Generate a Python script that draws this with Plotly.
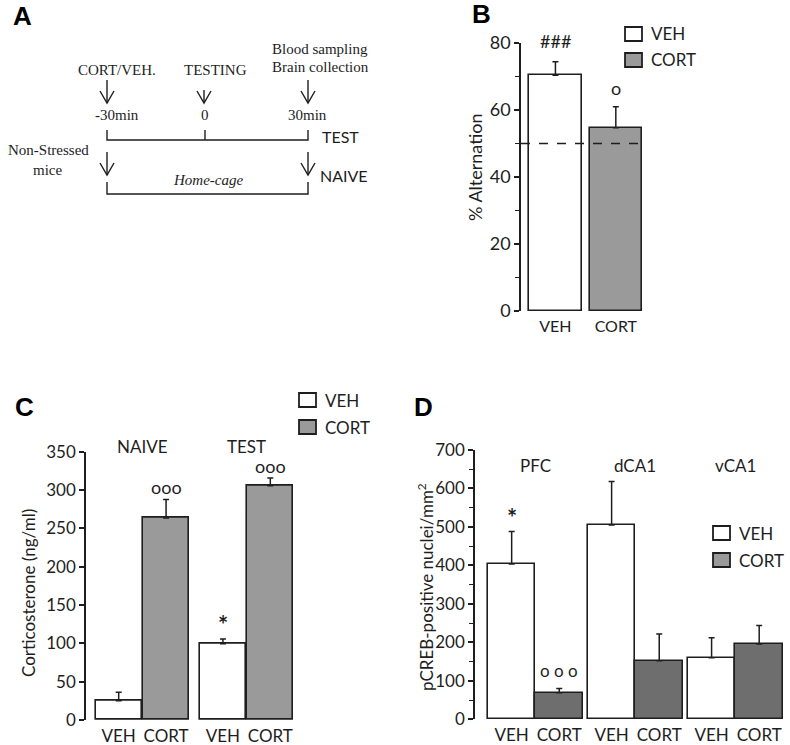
import plotly.graph_objects as go

W, H = 790, 745

# ---------------- data ----------------
groups_b = ["VEH", "CORT"]
alt_mean = [70.4, 54.7]
alt_sem = [4.0, 6.3]
chance_level = 50
b_marks = ["###", "o"]

c_groups = ["NAIVE", "TEST"]
c_treat = ["VEH", "CORT"]
cort_veh = [25.2, 99.6]
cort_veh_sem = [11.0, 6.0]
cort_cort = [263.5, 305.7]
cort_cort_sem = [24.3, 10.0]
c_marks_veh = ["", "*"]
c_marks_cort = ["ooo", "ooo"]

d_regions = ["PFC", "dCA1", "vCA1"]
creb_veh = [404, 505, 160]
creb_veh_sem = [84, 113, 52]
creb_cort = [69, 152, 196]
creb_cort_sem = [11, 70, 48]
d_marks_veh = ["*", "", ""]
d_marks_cort = ["o o o", "", ""]

# ---------------- styles ----------------
SANS = "Lato"
SERIF = "Liberation Serif"
INK = "#1e1e1e"
GRAY_LIGHT = "#9a9a9a"
GRAY_DARK = "#6e6e6e"


def px(x):
    return x / W


def py(y):
    return 1 - y / H


fig = go.Figure()
shapes = []
ann = []


def err(sem):
    return dict(type="data", array=sem, arrayminus=[0] * len(sem), symmetric=False,
                color=INK, thickness=1.5, width=3)


def label(text, x, y, fam=SANS, size=17, xanchor="center", angle=0, color=INK):
    ann.append(dict(x=px(x), y=py(y), xref="paper", yref="paper", text=text, showarrow=False,
                    xanchor=xanchor, yanchor="middle", textangle=angle,
                    font=dict(family=fam, size=size, color=color)))


def mark(text, xref, yref, x, y, size, yshift):
    if not text:
        return
    if text == "*":
        text = "<b>*</b>"
    ann.append(dict(x=x, y=y, xref=xref, yref=yref, text=text, showarrow=False,
                    xanchor="center", yanchor="bottom", yshift=yshift,
                    font=dict(family=SANS, size=size, color=INK)))


# ---------------- Panel B ----------------
xb = list(range(len(groups_b)))
fig.add_trace(go.Bar(x=xb, y=alt_mean, width=0.87,
                     marker=dict(color=["white", GRAY_LIGHT], line=dict(color=INK, width=1.6)),
                     error_y=err(alt_sem), xaxis="x", yaxis="y", showlegend=False))
shapes.append(dict(type="line", xref="x", yref="y", x0=-0.57, x1=1.45, y0=chance_level, y1=chance_level,
                   line=dict(color=INK, width=1.5, dash="dash")))
for i, m in enumerate(b_marks):
    mark(m, "x", "y", xb[i], alt_mean[i] + alt_sem[i], 18, 8 if i == 0 else 6)

# ---------------- Panel C ----------------
gap_c = 2.2
xc_veh = [g * gap_c for g in range(len(c_groups))]
xc_cort = [g * gap_c + 1 for g in range(len(c_groups))]
fig.add_trace(go.Bar(x=xc_veh, y=cort_veh, width=0.97,
                     marker=dict(color="white", line=dict(color=INK, width=1.6)),
                     error_y=err(cort_veh_sem), xaxis="x2", yaxis="y2", showlegend=False))
fig.add_trace(go.Bar(x=xc_cort, y=cort_cort, width=0.97,
                     marker=dict(color=GRAY_LIGHT, line=dict(color=INK, width=1.6)),
                     error_y=err(cort_cort_sem), xaxis="x2", yaxis="y2", showlegend=False))
for i, g in enumerate(c_groups):
    ann.append(dict(x=(xc_veh[i] + xc_cort[i]) / 2, y=py(446), xref="x2", yref="paper", text=g,
                    showarrow=False, xanchor="center", yanchor="middle",
                    font=dict(family=SANS, size=17, color=INK)))
    mark(c_marks_veh[i], "x2", "y2", xc_veh[i], cort_veh[i] + cort_veh_sem[i], 24, -2)
    mark(c_marks_cort[i], "x2", "y2", xc_cort[i], cort_cort[i] + cort_cort_sem[i], 18, -1)

# ---------------- Panel D ----------------
gap_d = 2.1
xd_veh = [g * gap_d for g in range(len(d_regions))]
xd_cort = [g * gap_d + 1 for g in range(len(d_regions))]
fig.add_trace(go.Bar(x=xd_veh, y=creb_veh, width=1.0,
                     marker=dict(color="white", line=dict(color=INK, width=1.6)),
                     error_y=err(creb_veh_sem), xaxis="x3", yaxis="y3", showlegend=False))
fig.add_trace(go.Bar(x=xd_cort, y=creb_cort, width=1.0,
                     marker=dict(color=GRAY_DARK, line=dict(color=INK, width=1.6)),
                     error_y=err(creb_cort_sem), xaxis="x3", yaxis="y3", showlegend=False))
for i, g in enumerate(d_regions):
    ann.append(dict(x=(xd_veh[i] + xd_cort[i]) / 2, y=py(465), xref="x3", yref="paper", text=g,
                    showarrow=False, xanchor="center", yanchor="middle",
                    font=dict(family=SANS, size=17, color=INK)))
    mark(d_marks_veh[i], "x3", "y3", xd_veh[i], creb_veh[i] + creb_veh_sem[i], 24, -2)
    mark(d_marks_cort[i], "x3", "y3", xd_cort[i], creb_cort[i] + creb_cort_sem[i], 17, 6)

# ---------------- axes ----------------
def yax(domain, rng, dtick, minor, anchor, size=17):
    d = dict(domain=domain, range=rng, showgrid=False, zeroline=False, showline=True,
             linecolor=INK, linewidth=1.5, ticks="outside", ticklen=5, tickwidth=1.5,
             tickcolor=INK, dtick=dtick, tick0=0, tickfont=dict(family=SANS, size=size, color=INK),
             fixedrange=True, anchor=anchor, automargin=False)
    if minor:
        d["minor"] = dict(dtick=minor, ticks="outside", ticklen=4, tickwidth=1.2, tickcolor=INK,
                          showgrid=False)
    return d


def xax(domain, rng, tickvals, ticktext, anchor, size=17):
    return dict(domain=domain, range=rng, showgrid=False, zeroline=False, showline=False,
                ticks="", tickvals=tickvals, ticktext=ticktext, anchor=anchor,
                ticklabelstandoff=4, automargin=False,
                tickfont=dict(family=SANS, size=size, color=INK), fixedrange=True)


layout = dict(
    width=W, height=H, margin=dict(l=0, r=0, t=0, b=0, pad=0),
    paper_bgcolor="white", plot_bgcolor="rgba(0,0,0,0)", bargap=0,
    xaxis=xax([px(521), px(643)], [-0.57, 1.45], xb, groups_b, "y", 16),
    yaxis=yax([py(311), py(43)], [0, 80], 20, 10, "x", 18),
    xaxis2=xax([px(86), px(294)], [-0.69, 3.7], xc_veh + xc_cort,
               [c_treat[0]] * len(xc_veh) + [c_treat[1]] * len(xc_cort), "y2"),
    yaxis2=yax([py(720), py(451.7)], [0, 350], 50, None, "x2"),
    xaxis3=xax([px(475), px(783)], [-0.77, 5.7], xd_veh + xd_cort,
               [c_treat[0]] * len(xd_veh) + [c_treat[1]] * len(xd_cort), "y3"),
    yaxis3=yax([py(719.3), py(450)], [0, 700], 100, 50, "x3"),
)

# axis titles
label("% Alternation", 475, 167, size=18, angle=-90)
label("Corticosterone (ng/ml)", 28, 593, size=17, angle=-90)
label("pCREB-positive nuclei/mm<sup>2</sup>", 425, 587, size=17, angle=-90)

# panel letters
for letter, (x, y) in {"A": (22, 16), "B": (481, 14), "C": (24, 407), "D": (423, 407)}.items():
    label("<b>" + letter + "</b>", x, y, fam="Liberation Sans", size=26, color="black")

# legends
legend_spots = [(625, 27, 53), (299, 393, 420), (713, 526, 553)]
for (lx, ly1, ly2) in legend_spots:
    for (yy, fill, lab) in [(ly1, "white", c_treat[0]), (ly2, GRAY_LIGHT, c_treat[1])]:
        shapes.append(dict(type="rect", xref="paper", yref="paper", x0=px(lx), x1=px(lx + 17),
                           y0=py(yy), y1=py(yy + 14), fillcolor=fill, line=dict(color=INK, width=1.8)))
        label(lab, lx + 24, yy + 7, xanchor="left")

# ---------------- Panel A (protocol diagram) ----------------
def line_path(points):
    d = "M " + " L ".join(f"{px(x)},{py(y)}" for x, y in points)
    return dict(type="path", xref="paper", yref="paper", path=d, line=dict(color=INK, width=1.4))


def arrow(x, y0, y1):
    shapes.append(line_path([(x, y0), (x, y1)]))
    shapes.append(line_path([(x - 7, y1 - 12), (x, y1), (x + 7, y1 - 12)]))


for (x, y0, y1) in [(107, 80, 103), (204, 90, 103), (308, 80, 103), (107, 152, 175), (308, 152, 175)]:
    arrow(x, y0, y1)
shapes.append(line_path([(107, 130), (107, 140), (308, 140), (308, 130)]))
shapes.append(line_path([(205, 130), (205, 140)]))
shapes.append(line_path([(107, 182), (107, 194), (308, 194), (308, 182)]))

a_texts = [
    ("Blood sampling", 320, 49, SERIF, 15),
    ("Brain collection", 320, 67, SERIF, 15),
    ("CORT/VEH.", 117, 70, SERIF, 15),
    ("TESTING", 215, 70, SERIF, 15),
    ("-30min", 117, 115, SERIF, 15),
    ("0", 205, 115, SERIF, 15),
    ("30min", 307, 115, SERIF, 15),
    ("Non-Stressed", 48, 150, SERIF, 15),
    ("mice", 47, 170, SERIF, 15),
    ("<i>Home-cage</i>", 208, 180, SERIF, 15),
    ("TEST", 340, 136, SANS, 16),
    ("NAIVE", 344, 175, SANS, 16),
]
for (t, x, y, fam, sz) in a_texts:
    label(t, x, y, fam=fam, size=sz)

layout["shapes"] = shapes
layout["annotations"] = ann
fig.update_layout(**layout)
fig.write_html("out.html", config={"displayModeBar": False},
               post_script="document.body.style.margin='0';")
